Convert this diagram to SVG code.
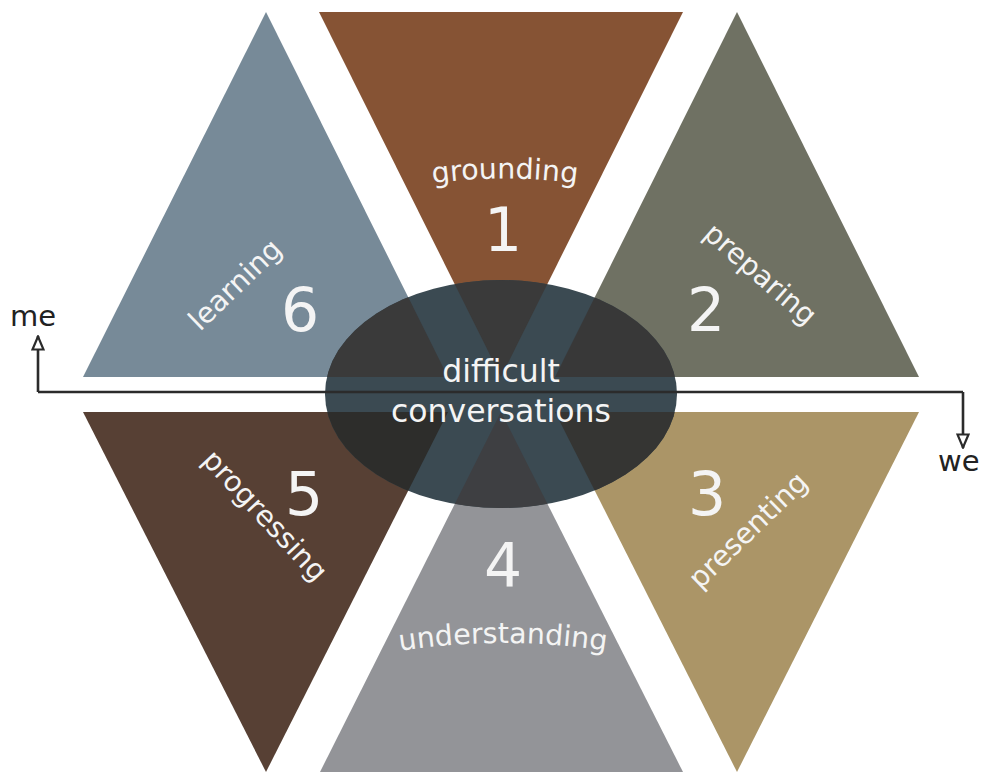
<svg xmlns="http://www.w3.org/2000/svg" width="984" height="772" viewBox="0 0 984 772">
  <defs>
    <style>
      .lbl { font-family: "DejaVu Sans", Verdana, sans-serif; fill: #f4f4f4; }
      .word { font-size: 28.5px; }
      .num { font-size: 60px; text-anchor: middle; }
      .axis { fill: none; stroke: #2b2b2b; stroke-width: 2.6; }
      .axis-text { font-family: "DejaVu Sans", Verdana, sans-serif; font-size: 29px; fill: #222; }
    </style>
    <marker id="openArrow" viewBox="0 0 16 14" refX="15" refY="7" markerWidth="16" markerHeight="14" markerUnits="userSpaceOnUse" orient="auto">
      <path d="M1.5,1.5 L14.5,7 L1.5,12.5 Z" fill="#fff" stroke="#2b2b2b" stroke-width="2.2" stroke-linejoin="miter"/>
    </marker>
    <clipPath id="hub">
      <ellipse cx="501" cy="394" rx="176" ry="114"/>
    </clipPath>
    <path id="arcTop" d="M410,187 Q503,170 600,187"/>
    <path id="arcBottom" d="M386,653 Q503,633 620,653"/>
  </defs>

  <!-- six stage triangles -->
  <g id="stage-6"><polygon points="266,12 83,377 448,377" fill="#778a98"/></g>
  <g id="stage-1"><polygon points="319,12 683,12 501,377" fill="#865334"/></g>
  <g id="stage-2"><polygon points="737,12 555,377 919,377" fill="#6f7163"/></g>
  <g id="stage-5"><polygon points="83,412 448,412 266,772" fill="#574034"/></g>
  <g id="stage-4"><polygon points="501,412 320,772 683,772" fill="#939498"/></g>
  <g id="stage-3"><polygon points="555,412 919,412 737,772" fill="#ab9567"/></g>

  <!-- central hub, darkening the triangles it covers -->
  <g id="hub-node">
    <ellipse cx="501" cy="394" rx="176" ry="114" fill="#3b4a52"/>
    <g clip-path="url(#hub)">
      <polygon points="266,12 83,377 448,377" fill="#3a3a3a"/>
      <polygon points="319,12 683,12 501,377" fill="#3a3a3a"/>
      <polygon points="737,12 555,377 919,377" fill="#383838"/>
      <polygon points="83,412 448,412 266,772" fill="#2d2d2b"/>
      <polygon points="501,412 320,772 683,772" fill="#3e3f42"/>
      <polygon points="555,412 919,412 737,772" fill="#353533"/>
    </g>
  </g>

  <!-- me / we axis -->
  <g id="connectors">
    <path class="axis" d="M963,392 L38,392"/>
    <path class="axis" d="M38,392 L38,336" marker-end="url(#openArrow)"/>
    <path class="axis" d="M963,392 L963,448" marker-end="url(#openArrow)"/>
  </g>

  <!-- labels -->
  <g id="labels">
    <text class="lbl word"><textPath href="#arcTop" startOffset="50%" text-anchor="middle">grounding</textPath></text>
    <text class="lbl num" x="503" y="251">1</text>

    <text class="lbl word" transform="translate(200,332) rotate(-44)">learning</text>
    <text class="lbl num" x="300" y="331">6</text>

    <text class="lbl word" transform="translate(702,236) rotate(41)">preparing</text>
    <text class="lbl num" x="706" y="331">2</text>

    <text class="lbl word" transform="translate(201,461) rotate(47)">progressing</text>
    <text class="lbl num" x="304" y="515">5</text>

    <text class="lbl word" transform="translate(700,590) rotate(-44)">presenting</text>
    <text class="lbl num" x="707" y="515">3</text>

    <text class="lbl num" x="503" y="586">4</text>
    <text class="lbl word"><textPath href="#arcBottom" startOffset="50%" text-anchor="middle">understanding</textPath></text>

    <text class="lbl" x="501" y="382" font-size="31.5" text-anchor="middle">difficult</text>
    <text class="lbl" x="501" y="422" font-size="31.5" text-anchor="middle">conversations</text>

    <text class="axis-text" x="10" y="326">me</text>
    <text class="axis-text" x="938" y="471">we</text>
  </g>
</svg>
